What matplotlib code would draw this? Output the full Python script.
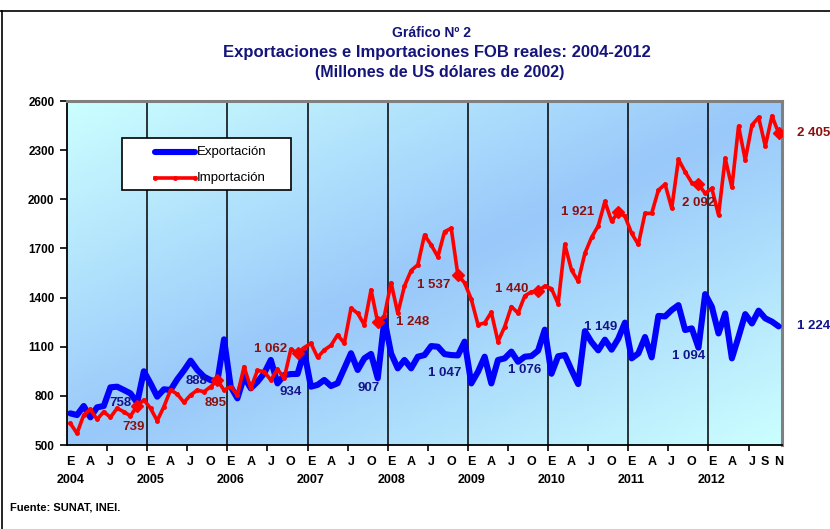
import numpy as np
import matplotlib
matplotlib.use('Agg')
import matplotlib.pyplot as plt
from matplotlib.lines import Line2D
from matplotlib.patches import Rectangle
from matplotlib.colors import LinearSegmentedColormap

plt.rcParams['font.family'] = ['Liberation Sans', 'DejaVu Sans']

# monthly data, Jan 2004 - Nov 2012 (millones de US$ de 2002)
exportacion = [
    693, 683, 738, 669, 730, 738, 852, 856, 836, 815, 758, 950,        # 2004
    876, 795, 840, 836, 901, 955, 1015, 958, 917, 896, 888, 1145,      # 2005
    856, 785, 917, 846, 886, 937, 1019, 876, 927, 933, 934, 1070,      # 2006
    856, 867, 897, 860, 877, 968, 1060, 958, 1029, 1056, 907, 1265,    # 2007
    1059, 968, 1019, 968, 1039, 1049, 1104, 1100, 1055, 1049, 1047, 1131,  # 2008
    876, 947, 1039, 876, 1019, 1029, 1070, 1008, 1039, 1043, 1076, 1204,   # 2009
    935, 1042, 1049, 958, 872, 1195, 1128, 1078, 1143, 1082, 1149, 1247,   # 2010
    1029, 1059, 1159, 1035, 1288, 1285, 1324, 1354, 1202, 1212, 1094, 1421,  # 2011
    1344, 1181, 1303, 1029, 1161, 1299, 1242, 1320, 1273, 1253, 1224,      # 2012
]
importacion = [
    632, 571, 683, 718, 656, 703, 669, 724, 703, 677, 739, 775,
    724, 648, 734, 836, 811, 760, 805, 835, 825, 856, 895, 835,
    856, 805, 978, 846, 955, 948, 896, 963, 907, 1085, 1062, 1095,
    1121, 1035, 1080, 1108, 1172, 1121, 1335, 1304, 1233, 1447, 1248, 1290,
    1491, 1304, 1470, 1565, 1600, 1782, 1721, 1649, 1802, 1823, 1537, 1490,
    1390, 1235, 1245, 1310, 1131, 1222, 1345, 1305, 1410, 1435, 1440, 1470,
    1455, 1362, 1724, 1568, 1500, 1670, 1767, 1838, 1987, 1866, 1921, 1896,
    1792, 1724, 1914, 1914, 2056, 2092, 1945, 2244, 2168, 2101, 2092, 2036,
    2067, 1904, 2250, 2073, 2447, 2240, 2453, 2500, 2325, 2508, 2405,
]
years = list(range(2004, 2013))
mes_letra = ['E', 'A', 'J', 'O']
letras_2012 = ['E', 'A', 'J', 'S', 'N']
pos_2012 = [0, 3, 6, 8, 10]

# labelled points (November of every year) and label offsets in pixels
nov_idx = [10 + 12 * k for k in range(9)]
off_exp = [(-6, 0, 'right', 'center'), (-10, 0, 'right', 'center'), (-7, -18, 'center', 'center'),
           (-9, -10, 'center', 'center'), (-13, -18, 'center', 'center'), (-13, -19, 'center', 'center'),
           (-18, 12, 'center', 'center'), (-10, -8, 'center', 'center'), (18, 0, 'left', 'center')]
off_imp = [(-4, -21, 'center', 'center'), (-2, -23, 'center', 'center'), (-10, 4, 'right', 'center'),
           (18, 0, 'left', 'center'), (-24, -10, 'center', 'center'), (-10, 2, 'right', 'center'),
           (-24, 0, 'right', 'center'), (0, -19, 'center', 'center'), (18, 0, 'left', 'center')]

def fmt(v):
    return '{:,}'.format(v).replace(',', ' ')

n = len(exportacion)
x = np.arange(n)
W, H = 830, 529

fig = plt.figure(figsize=(8.3, 5.29), dpi=100)
ax = fig.add_axes([67 / W, 1 - 445 / H, 715 / W, 344 / H])

# gradient background of the plot area
gx, gy = np.meshgrid(np.linspace(0, 1, 300), np.linspace(0, 1, 200))
grad = np.abs(gx + gy - 1)
cmap = LinearSegmentedColormap.from_list('fondo', ['#99C8FA', '#CCFFFF'])
ax.imshow(grad, extent=[-0.5, n - 0.5, 500, 2600], aspect='auto', cmap=cmap,
          origin='upper', zorder=0, interpolation='bilinear')

for k in range(1, 9):
    ax.axvline(12 * k - 0.5, color='black', lw=1.1, zorder=1)

ax.plot(x, exportacion, color='#0000FF', lw=4.4, solid_joinstyle='round',
        solid_capstyle='round', zorder=3)
ax.plot(x, importacion, color='#FF0000', lw=2.6, marker='o', ms=2.5, zorder=4)
ax.plot(nov_idx, [importacion[i] for i in nov_idx], ls='none', marker='D',
        color='#FF0000', ms=6.5, zorder=4)

for k, i in enumerate(nov_idx):
    dx, dy, ha, va = off_exp[k]
    ax.annotate(fmt(exportacion[i]), (i, exportacion[i]), xytext=(dx, dy),
                textcoords='offset pixels', ha=ha, va=va, color='#14148C',
                fontsize=9.5, fontweight='bold', zorder=5, annotation_clip=False)
    dx, dy, ha, va = off_imp[k]
    ax.annotate(fmt(importacion[i]), (i, importacion[i]), xytext=(dx, dy),
                textcoords='offset pixels', ha=ha, va=va, color='#8B1010',
                fontsize=9.5, fontweight='bold', zorder=5, annotation_clip=False)

ax.set_xlim(-0.5, n - 0.5)
ax.set_ylim(500, 2600)
ax.set_yticks(range(500, 2601, 300))
ax.tick_params(axis='y', length=5, width=1.2, labelsize=8.5, pad=4)
for t in ax.get_yticklabels():
    t.set_fontweight('bold')

# x axis: ticks every six months, letters below
ax.set_xticks(np.arange(5.5, n, 6))
ax.set_xticklabels([])
ax.tick_params(axis='x', which='major', length=4, width=1.2, direction='out')
lab_pos, lab_txt = [], []
for y in years:
    base = 12 * (y - 2004)
    if y < 2012:
        for j, l in enumerate(mes_letra):
            lab_pos.append(base + 3 * j)
            lab_txt.append(l + ('\n' + str(y) if j == 0 else '\n'))
    else:
        for p, l in zip(pos_2012, letras_2012):
            lab_pos.append(base + p)
            lab_txt.append(l + ('\n' + str(y) if p == 0 else '\n'))
ax.set_xticks(lab_pos, minor=True)
ax.set_xticklabels(lab_txt, minor=True, fontsize=9, fontweight='bold', linespacing=1.6)
ax.tick_params(axis='x', which='minor', length=0, pad=8)

for s in ['left', 'bottom']:
    ax.spines[s].set_color('black')
    ax.spines[s].set_linewidth(1.3)
for s in ['top', 'right']:
    ax.spines[s].set_color('#808080')
    ax.spines[s].set_linewidth(2.2)

# legend box drawn in figure pixels
fig.add_artist(Rectangle((122 / W, 1 - 190 / H), 169 / W, 52 / H, transform=fig.transFigure,
                         facecolor='white', edgecolor='black', lw=1.2, zorder=6))
fig.add_artist(Line2D([155 / W, 195 / W], [1 - 152 / H] * 2, color='#0000FF', lw=4.4,
                      solid_capstyle='round', zorder=7))
fig.add_artist(Line2D([155 / W, 175 / W, 195 / W], [1 - 178 / H] * 3, color='#FF0000', lw=2.6,
                      marker='o', ms=2.5, zorder=7))
fig.text(197 / W, 1 - 152 / H, 'Exportación', ha='left', va='center', fontsize=9.5, zorder=8)
fig.text(197 / W, 1 - 178 / H, 'Importación', ha='left', va='center', fontsize=9.5, zorder=8)

titulo_col = '#14147A'
fig.text(431 / W, 1 - 33 / H, 'Gráfico Nº 2', ha='center', va='center',
         fontsize=10, fontweight='bold', color=titulo_col)
fig.text(437 / W, 1 - 52 / H, 'Exportaciones e Importaciones FOB reales: 2004-2012',
         ha='center', va='center', fontsize=12, fontweight='bold', color=titulo_col)
fig.text(440 / W, 1 - 73 / H, '(Millones de US dólares de 2002)', ha='center',
         va='center', fontsize=11.5, fontweight='bold', color=titulo_col)
fig.text(10 / W, 1 - 507 / H, 'Fuente: SUNAT, INEI.', ha='left', va='center',
         fontsize=8, fontweight='bold')

fig.add_artist(Line2D([0, 1], [1 - 11 / H, 1 - 11 / H], color='black', lw=1.2))
fig.add_artist(Line2D([1.5 / W, 1.5 / W], [1 - 11 / H, 0], color='black', lw=1.2))

fig.savefig('out.png', dpi=100)
